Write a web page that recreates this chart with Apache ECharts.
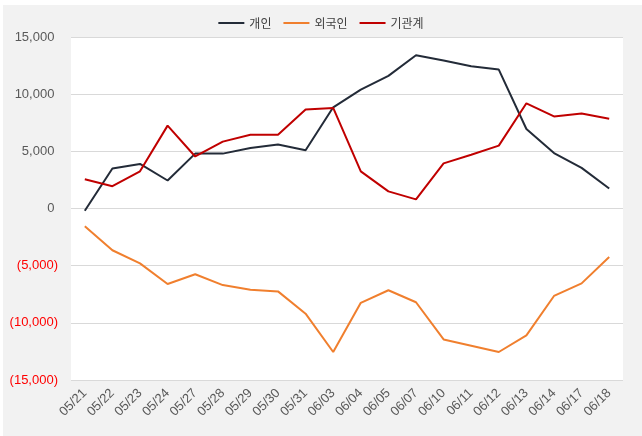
<!DOCTYPE html>
<html><head><meta charset="utf-8">
<script src="https://cdn.jsdelivr.net/npm/echarts@6/dist/echarts.min.js"></script>
<style>html,body{margin:0;padding:0;background:#fff}#c{width:642px;height:436px}</style>
</head><body><div id="c"></div>
<script>
const categories = ['05/21','05/22','05/23','05/24','05/27','05/28','05/29','05/30','05/31','06/03','06/04','06/05','06/07','06/10','06/11','06/12','06/13','06/14','06/17','06/18'];
const individual = [-200,3500,3900,2450,4800,4800,5300,5600,5100,8850,10400,11600,13400,12950,12450,12150,6950,4850,3550,1750];
const foreign = [-1550,-3650,-4800,-6600,-5750,-6700,-7100,-7250,-9200,-12550,-8250,-7150,-8200,-11450,-12000,-12550,-11100,-7650,-6550,-4250];
const institution = [2550,1950,3250,7250,4550,5850,6450,6450,8650,8800,3250,1500,800,3950,4700,5500,9200,8050,8300,7850];
const seriesNames = ['개인','외국인','기관계'];
const yMin = -15000, yMax = 15000, yStep = 5000;

function fmt(v){
  const s = Math.abs(v).toLocaleString('en-US');
  return v < 0 ? '(' + s + ')' : s + ' ';
}
const chart = echarts.init(document.getElementById('c'), null, {renderer:'canvas'});
const font = 'Liberation Sans, Arial, "Noto Sans CJK KR", sans-serif';
chart.setOption({
  animation:false,
  backgroundColor:'#ffffff',
  graphic:[{type:'rect', z:-10, shape:{x:3,y:5,width:642,height:436}, style:{fill:'#f2f2f2'}}],
  color:['#232b38','#f07f2e','#c00000'],
  legend:{
    top:12, left:'center', itemWidth:26, itemHeight:10, itemGap:12,
    icon:'path://M0,4L26,4L26,6L0,6Z',
    textStyle:{fontFamily:'"Noto Sans CJK KR", sans-serif', fontSize:12, color:'#404040'},
    data:seriesNames
  },
  grid:{left:71, right:19, top:37, bottom:56, show:true, backgroundColor:'#ffffff', borderWidth:0},
  xAxis:{
    type:'category', data:categories, boundaryGap:true,
    axisLine:{show:false}, axisTick:{show:false},
    axisLabel:{rotate:45, fontSize:13, color:'#595959', fontFamily:font, margin:11, interval:0}
  },
  yAxis:{
    type:'value', min:yMin, max:yMax, interval:yStep,
    axisLine:{show:false}, axisTick:{show:false},
    splitLine:{lineStyle:{color:'#d9d9d9', width:1}},
    axisLabel:{fontSize:13, fontFamily:font, margin:13,
      formatter:fmt,
      color:function(v){ return v < 0 ? '#ff0000' : '#595959'; }}
  },
  series:[
    {name:seriesNames[0], type:'line', data:individual, symbol:'none', lineStyle:{width:2}},
    {name:seriesNames[1], type:'line', data:foreign, symbol:'none', lineStyle:{width:2}},
    {name:seriesNames[2], type:'line', data:institution, symbol:'none', lineStyle:{width:2}}
  ]
});
</script></body></html>
